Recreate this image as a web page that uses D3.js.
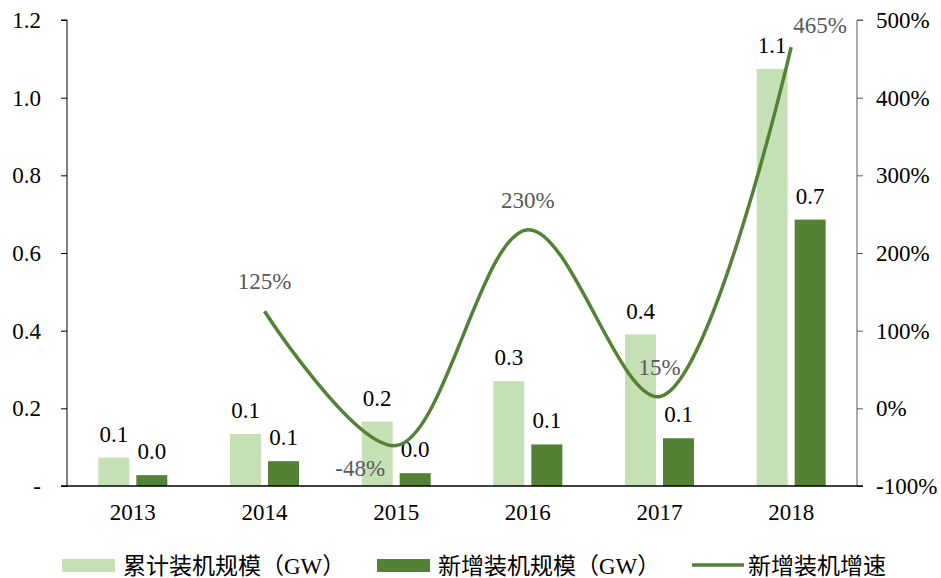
<!DOCTYPE html>
<html>
<head>
<meta charset="utf-8">
<script src="https://cdn.jsdelivr.net/npm/d3@7"></script>
<style>
body { margin: 0; background: #fff; }
text { font-family: "Liberation Serif", "Noto Sans CJK SC", serif; }
</style>
</head>
<body>
<div class="d3chart"></div>
<script>
// chart data
var years = ["2013", "2014", "2015", "2016", "2017", "2018"];
var cumulative = [0.073, 0.134, 0.166, 0.270, 0.390, 1.074];   // 累计装机规模（GW）
var added = [0.028, 0.064, 0.033, 0.107, 0.123, 0.686];        // 新增装机规模（GW）
var growthYears = ["2014", "2015", "2016", "2017", "2018"];
var growth = [125, -48, 230, 15, 465];                        // 新增装机增速 (%)
var leftTicks = [0, 0.2, 0.4, 0.6, 0.8, 1.0, 1.2];
var rightTicks = [-100, 0, 100, 200, 300, 400, 500];
var legendNames = ["累计装机规模（GW）", "新增装机规模（GW）", "新增装机增速"];

var width = 941, height = 578;
var plotL = 67, plotR = 857, plotT = 20, plotB = 486;
var fs = 23;

var lightGreen = "#c5e0b4", darkGreen = "#548235", lineGreen = "#538135";

var svg = d3.select(".d3chart").append("svg")
    .attr("width", width)
    .attr("height", height);

var x = d3.scaleBand().domain(years).range([plotL, plotR]);
var y = d3.scaleLinear().domain([0, 1.2]).range([plotB, plotT]);
var y2 = d3.scaleLinear().domain([-100, 500]).range([plotB, plotT]);

var barW = 31, off = 19;

// bars
svg.selectAll(".cum")
    .data(years)
    .enter().append("rect")
    .attr("class", "cum")
    .attr("x", function(d) { return x(d) + x.bandwidth() / 2 - off - barW / 2; })
    .attr("y", function(d, i) { return y(cumulative[i]); })
    .attr("width", barW)
    .attr("height", function(d, i) { return plotB - y(cumulative[i]); })
    .attr("fill", lightGreen);

svg.selectAll(".add")
    .data(years)
    .enter().append("rect")
    .attr("class", "add")
    .attr("x", function(d) { return x(d) + x.bandwidth() / 2 + off - barW / 2; })
    .attr("y", function(d, i) { return y(added[i]); })
    .attr("width", barW)
    .attr("height", function(d, i) { return plotB - y(added[i]); })
    .attr("fill", darkGreen);

// bar labels
svg.selectAll(".cumLbl")
    .data(years)
    .enter().append("text")
    .attr("class", "cumLbl")
    .attr("x", function(d) { return x(d) + x.bandwidth() / 2 - off; })
    .attr("y", function(d, i) { return y(cumulative[i]) - 16; })
    .attr("text-anchor", "middle")
    .attr("font-size", fs)
    .attr("fill", "#000")
    .text(function(d, i) { return d3.format(".1f")(cumulative[i]); });

svg.selectAll(".addLbl")
    .data(years)
    .enter().append("text")
    .attr("class", "addLbl")
    .attr("x", function(d) { return x(d) + x.bandwidth() / 2 + off; })
    .attr("y", function(d, i) { return y(added[i]) - 16; })
    .attr("text-anchor", "middle")
    .attr("font-size", fs)
    .attr("fill", "#000")
    .text(function(d, i) { return d3.format(".1f")(added[i]); });

// axes
var axisL = svg.append("g")
    .attr("transform", "translate(" + plotL + ",0)")
    .call(d3.axisLeft(y).tickValues(leftTicks).tickSize(6).tickPadding(20)
        .tickFormat(function(d) { return d === 0 ? "-" : d3.format(".1f")(d); }));
axisL.select(".domain").attr("stroke", "#000").attr("d", "M-6," + plotT + "H0V" + plotB);
axisL.selectAll("text").attr("font-size", fs).attr("fill", "#000")
    .attr("font-family", "Liberation Serif");

var axisR = svg.append("g")
    .attr("transform", "translate(" + plotR + ",0)")
    .call(d3.axisRight(y2).tickValues(rightTicks).tickSize(6).tickPadding(13)
        .tickFormat(function(d) { return d + "%"; }));
axisR.select(".domain").attr("stroke", "#595959").attr("d", "M6," + plotT + "H0V" + plotB);
axisR.selectAll("line").attr("stroke", "#595959");
axisR.selectAll("text").attr("font-size", fs).attr("fill", "#000")
    .attr("font-family", "Liberation Serif");

var axisB = svg.append("g")
    .attr("transform", "translate(0," + plotB + ")")
    .call(d3.axisBottom(x).tickSize(0).tickPadding(18));
axisB.select(".domain").attr("stroke", "#000").attr("stroke-width", 1.5)
    .attr("d", "M" + (plotL - 6) + ",0H" + (plotR + 6));
axisB.selectAll("text").attr("font-size", fs).attr("fill", "#000")
    .attr("font-family", "Liberation Serif");

// growth line
var line = d3.line()
    .x(function(d, i) { return x(d) + x.bandwidth() / 2; })
    .y(function(d, i) { return y2(growth[i]); })
    .curve(d3.curveCatmullRom.alpha(0.5));

svg.append("path")
    .datum(growthYears)
    .attr("d", line)
    .attr("fill", "none")
    .attr("stroke", lineGreen)
    .attr("stroke-width", 3.5);

// growth labels, placement per point
var place = {
  "2015": {dx: -11, dy: 30, anchor: "end"},
  "2018": {dx: 2, dy: -14, anchor: "start"}
};
svg.selectAll(".gLbl")
    .data(growthYears)
    .enter().append("text")
    .attr("class", "gLbl")
    .attr("x", function(d) { var p = place[d]; return x(d) + x.bandwidth() / 2 + (p ? p.dx : 0); })
    .attr("y", function(d, i) { var p = place[d]; return y2(growth[i]) + (p ? p.dy : -22); })
    .attr("text-anchor", function(d) { var p = place[d]; return p ? p.anchor : "middle"; })
    .attr("font-size", fs)
    .attr("fill", "#595959")
    .text(function(d, i) { return growth[i] + "%"; });

// legend
var legend = svg.append("g").attr("class", "legend");
var lx = [62, 377, 692];
legend.selectAll("rect")
    .data([lightGreen, darkGreen])
    .enter().append("rect")
    .attr("x", function(d, i) { return lx[i]; })
    .attr("y", 559)
    .attr("width", 53)
    .attr("height", 13)
    .attr("fill", function(d) { return d; });
legend.append("line")
    .attr("x1", lx[2]).attr("x2", lx[2] + 52)
    .attr("y1", 565).attr("y2", 565)
    .attr("stroke", lineGreen).attr("stroke-width", 3.5);
legend.selectAll("text")
    .data(legendNames)
    .enter().append("text")
    .attr("x", function(d, i) { return lx[i] + (i === 2 ? 56 : 61); })
    .attr("y", 574)
    .attr("font-size", fs)
    .attr("fill", "#000")
    .text(function(d) { return d; });
</script>
</body>
</html>
